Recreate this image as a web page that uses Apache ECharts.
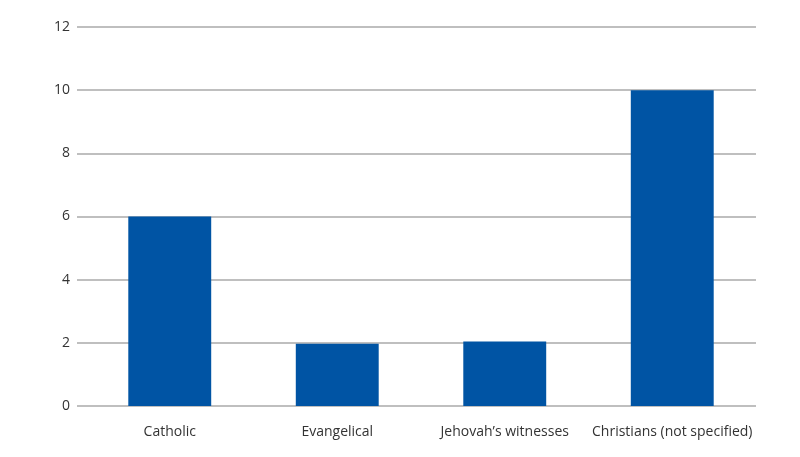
<!DOCTYPE html>
<html>
<head>
<meta charset="utf-8">
<script src="https://cdn.jsdelivr.net/npm/echarts@6/dist/echarts.min.js"></script>
<style>
  html, body { margin: 0; padding: 0; background: #fff; }
  #container { width: 800px; height: 457px; }
</style>
</head>
<body>
<div id="container"></div>
<script>
var categories = ['Catholic', 'Evangelical', 'Jehovah\u2019s witnesses', 'Christians (not specified)'];
var values = [6, 1.97, 2.04, 10];
var yMin = 0, yMax = 12, yStep = 2;

var myChart = echarts.init(document.getElementById('container'));
// 两个grid：一个画网格线和刻度，一个画柱子（柱子区域比网格线稍窄）
var option = {
    animation: false,
    grid: [
        { left: 86, right: 44, top: 27, bottom: 51 },
        { left: 77, right: 44, top: 27, bottom: 51 }
    ],
    xAxis: [
        {
            type: 'category',
            gridIndex: 0,
            data: categories,
            axisLine: { show: false },
            axisTick: { show: false },
            axisLabel: {
                interval: 0,
                color: '#333',
                fontSize: 14,
                fontFamily: 'Open Sans',
                margin: 19
            }
        },
        {
            type: 'category',
            gridIndex: 1,
            data: categories,
            show: false
        }
    ],
    yAxis: [
        {
            type: 'value',
            gridIndex: 0,
            min: yMin,
            max: yMax,
            interval: yStep,
            show: false,
            splitLine: { show: false }
        },
        {
            type: 'value',
            gridIndex: 1,
            min: yMin,
            max: yMax,
            interval: yStep,
            axisLine: { show: false },
            axisTick: { show: false },
            axisLabel: {
                color: '#333',
                fontSize: 14,
                fontFamily: 'Open Sans',
                margin: 7
            },
            splitLine: {
                lineStyle: { color: '#aaaaaa', width: 1.5 }
            }
        }
    ],
    series: [
        {
            type: 'bar',
            xAxisIndex: 0,
            yAxisIndex: 0,
            data: values,
            barWidth: '49.5%',
            itemStyle: { color: '#0054a4' }
        }
    ]
};
myChart.setOption(option);
</script>
</body>
</html>
